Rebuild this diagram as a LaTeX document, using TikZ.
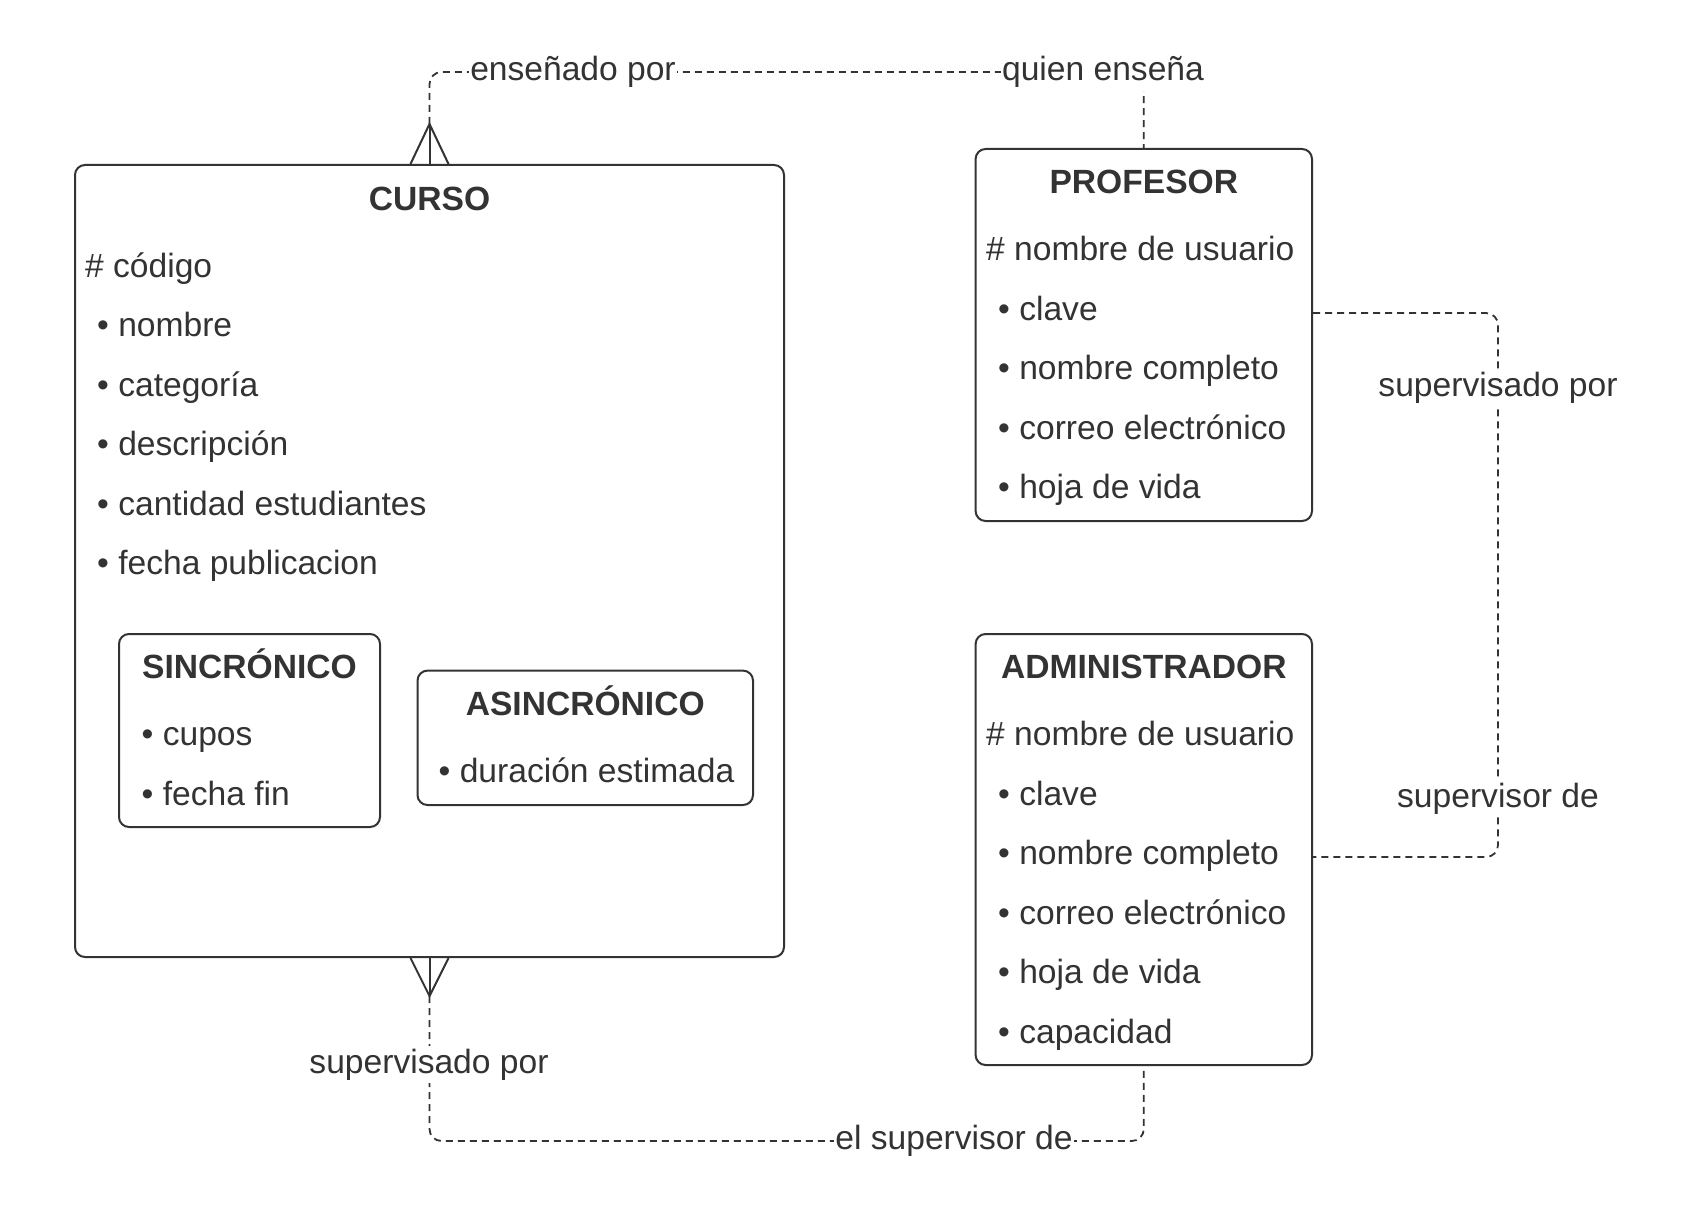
\documentclass[tikz,border=0pt]{standalone}
\usepackage{fontspec}
\setmainfont{Liberation Sans}
\usetikzlibrary{calc}
\definecolor{ink}{HTML}{333333}
\begin{document}
\begin{tikzpicture}[x=1pt,y=-1pt,
 box/.style={draw=ink, line width=2pt, rounded corners=10pt, inner sep=0pt},
 txt/.style={anchor=base west, inner sep=0pt, text=ink, font=\fontsize{33.6}{40}\selectfont},
 ttl/.style={anchor=base, inner sep=0pt, text=ink, font=\fontsize{33.6}{40}\selectfont\bfseries},
 lbl/.style={anchor=base, fill=white, inner xsep=1pt, inner ysep=3pt, text=ink, font=\fontsize{33.6}{40}\selectfont},
 rel/.style={draw=ink, line width=1.8pt, dash pattern=on 7pt off 5pt, rounded corners=12pt},
 foot/.style={draw=ink, line width=2pt}]
\useasboundingbox[fill=white] (0,0) rectangle (1696,1217);

% boxes
\node[box, minimum width=709pt, minimum height=792pt] (curso) at (429.5,561) {};
\node[box, minimum width=336.4pt, minimum height=372pt] (prof) at (1143.8,335) {};
\node[box, minimum width=336.4pt, minimum height=431pt] (admin) at (1143.8,849.5) {};
\node[box, minimum width=261pt, minimum height=193pt] (sinc) at (249.5,730.5) {};
\node[box, minimum width=335.5pt, minimum height=134.4pt] (asinc) at (585.25,737.8) {};

% CURSO texts
\node[ttl] (tcurso) at (429.5,210) {CURSO};
\node[txt] (c0) at (85,277) {\# código};
\node[txt] (c1) at (97,336.5) {• nombre};
\node[txt] (c2) at (97,396) {• categoría};
\node[txt] (c3) at (97,455.5) {• descripción};
\node[txt] (c4) at (97,515) {• cantidad estudiantes};
\node[txt] (c5) at (97,574.5) {• fecha publicacion};

% SINCRONICO
\node[ttl] (tsinc) at (249.5,678) {SINCRÓNICO};
\node[txt] (s1) at (141.5,745) {• cupos};
\node[txt] (s2) at (141.5,805) {• fecha fin};

% ASINCRONICO
\node[ttl] (tasinc) at (585.25,715) {ASINCRÓNICO};
\node[txt] (a1) at (438.5,782) {• duración estimada};

% PROFESOR
\node[ttl] (tprof) at (1143.8,193.7) {PROFESOR};
\node[txt] (p0) at (986,260.8) {\# nombre de usuario};
\node[txt] (p1) at (998,320) {• clave};
\node[txt] (p2) at (998,379.8) {• nombre completo};
\node[txt] (p3) at (998,439) {• correo electrónico};
\node[txt] (p4) at (998,498.7) {• hoja de vida};

% ADMINISTRADOR
\node[ttl] (tadmin) at (1143.8,678) {ADMINISTRADOR};
\node[txt] (d0) at (986,745) {\# nombre de usuario};
\node[txt] (d1) at (998,805) {• clave};
\node[txt] (d2) at (998,864) {• nombre completo};
\node[txt] (d3) at (998,924) {• correo electrónico};
\node[txt] (d4) at (998,983) {• hoja de vida};
\node[txt] (d5) at (998,1043) {• capacidad};

% connector CURSO -- PROFESOR
\coordinate (ctop) at ($(curso.north)+(0,-40)$);
\coordinate (t2) at ($(prof.north)+(0,-76)$);
\draw[foot] ($(curso.north)+(-19,0)$) -- (ctop) -- ($(curso.north)+(19,0)$);
\draw[foot] (curso.north) -- (ctop);
\draw[rel] (ctop) |- (t2) -- (prof.north);
\node[lbl] (l1) at (573,81) {enseñado por};
\node[lbl] (l2) at (1103,81) {quien enseña};

% connector PROFESOR -- ADMINISTRADOR
\coordinate (pr) at ($(prof.east)+(0,-22)$);
\coordinate (ar) at ($(admin.east)+(0,7.5)$);
\coordinate (r1) at ($(pr)+(185,0)$);
\coordinate (r2) at ($(ar)+(185,0)$);
\draw[rel] (pr) -- (r1) -- (r2) -- (ar);
\node[lbl] (l3) at (1498,396) {supervisado por};
\node[lbl] (l4) at (1498,807) {supervisor de};

% connector CURSO -- ADMINISTRADOR
\coordinate (cbot) at ($(curso.south)+(0,38)$);
\coordinate (b2) at ($(admin.south)+(0,75)$);
\draw[foot] ($(curso.south)+(-19,0)$) -- (cbot) -- ($(curso.south)+(19,0)$);
\draw[foot] (curso.south) -- (cbot);
\draw[rel] (cbot) |- (b2) -- (admin.south);
\node[lbl] (l5) at (429,1073) {supervisado por};
\node[lbl] (l6) at (954,1149) {el supervisor de};
\end{tikzpicture}
\end{document}
